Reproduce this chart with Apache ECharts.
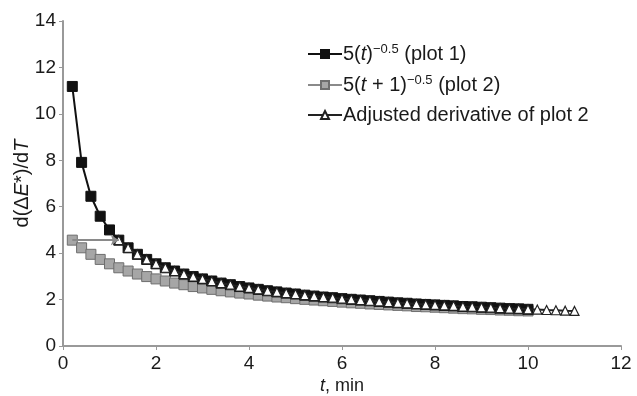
<!DOCTYPE html>
<html>
<head>
<meta charset="utf-8">
<style>
  html, body { margin: 0; padding: 0; background: #fff; }
  #chart { width: 637px; height: 396px; }
</style>
<script src="https://cdn.jsdelivr.net/npm/echarts@6/dist/echarts.min.js"></script>
</head>
<body>
<div id="chart"></div>
<script>
// Time points (min) for plot 1 and plot 2
const tMin = [0.2,0.4,0.6,0.8,1.0,1.2,1.4,1.6,1.8,2.0,2.2,2.4,2.6,2.8,3.0,3.2,3.4,3.6,3.8,4.0,
  4.2,4.4,4.6,4.8,5.0,5.2,5.4,5.6,5.8,6.0,6.2,6.4,6.6,6.8,7.0,7.2,7.4,7.6,7.8,8.0,
  8.2,8.4,8.6,8.8,9.0,9.2,9.4,9.6,9.8,10.0];

// Time points (min) for the adjusted derivative of plot 2
const tAdjusted = [1.2,1.4,1.6,1.8,2.0,2.2,2.4,2.6,2.8,3.0,3.2,3.4,3.6,3.8,4.0,4.2,4.4,4.6,4.8,5.0,
  5.2,5.4,5.6,5.8,6.0,6.2,6.4,6.6,6.8,7.0,7.2,7.4,7.6,7.8,8.0,8.2,8.4,8.6,8.8,9.0,
  9.2,9.4,9.6,9.8,10.0,10.2,10.4,10.6,10.8,11.0];

// 5(t)^-0.5 (plot 1)
const plot1 = [11.18,7.91,6.45,5.59,5.00,4.56,4.23,3.95,3.73,3.54,3.37,3.23,3.10,2.99,2.89,2.80,2.71,2.64,2.56,2.50,
  2.44,2.38,2.33,2.28,2.24,2.19,2.15,2.11,2.08,2.04,2.01,1.98,1.95,1.92,1.89,1.86,1.84,1.81,1.79,1.77,
  1.75,1.73,1.70,1.69,1.67,1.65,1.63,1.61,1.60,1.58];

// 5(t + 1)^-0.5 (plot 2)
const plot2 = [4.56,4.23,3.95,3.73,3.54,3.37,3.23,3.10,2.99,2.89,2.80,2.71,2.64,2.56,2.50,2.44,2.38,2.33,2.28,2.24,
  2.19,2.15,2.11,2.08,2.04,2.01,1.98,1.95,1.92,1.89,1.86,1.84,1.81,1.79,1.77,1.75,1.73,1.70,1.69,1.67,
  1.65,1.63,1.61,1.60,1.58,1.57,1.55,1.54,1.52,1.51];

// Adjusted derivative of plot 2 (plot 2 moved forward by 1 min)
const adjusted = plot2.slice();

// Horizontal shift arrow: from the first plot 2 point to the first adjusted point
const shiftFrom = [0.2, 4.56];
const shiftTo = [1.2, 4.56];

const yTicks = { min: 0, max: 14, step: 2 };
const xTicks = { min: 0, max: 12, step: 2 };

const FONT = "'Liberation Sans', Arial, sans-serif";
const INK = '#1a1a1a';

const pairs = (xs, ys) => xs.map((x, i) => [x, ys[i]]);

const legendText = {
  plot1: '5({i|t}){sup|−0.5} (plot 1)',
  plot2: '5({i|t} + 1){sup|−0.5} (plot 2)',
  adj: 'Adjusted derivative of plot 2'
};

const chart = echarts.init(document.getElementById('chart'), null, { renderer: 'canvas' });

chart.setOption({
  animation: false,
  backgroundColor: '#ffffff',
  grid: { left: 63, right: 16, top: 21, bottom: 50, containLabel: false, outerBoundsMode: 'none' },
  legend: {
    orient: 'vertical',
    left: 302,
    top: 38,
    itemGap: 10,
    itemWidth: 34,
    itemHeight: 10,
    data: ['plot1', 'plot2', 'adj'],
    formatter: name => legendText[name],
    textStyle: {
      fontFamily: FONT,
      fontSize: 20,
      color: INK,
      padding: [0, 0, 0, -4],
      rich: {
        i: { fontFamily: FONT, fontSize: 20, fontStyle: 'italic', color: INK },
        sup: { fontFamily: FONT, fontSize: 13, color: INK, verticalAlign: 'top', padding: [0, 0, 9, 0] }
      }
    }
  },
  xAxis: {
    type: 'value',
    min: xTicks.min,
    max: xTicks.max,
    interval: xTicks.step,
    name: '{i|t}, min',
    nameLocation: 'middle',
    nameGap: 31,
    nameMoveOverlap: false,
    nameTextStyle: {
      fontFamily: FONT, fontSize: 18, color: INK,
      rich: { i: { fontFamily: FONT, fontSize: 18, fontStyle: 'italic', color: INK } }
    },
    axisLine: { lineStyle: { color: '#999999', width: 2 } },
    axisTick: { show: true, inside: false, length: 4, lineStyle: { color: '#999999', width: 1 } },
    axisLabel: { fontFamily: FONT, fontSize: 19, color: INK, margin: 8 },
    splitLine: { show: false }
  },
  yAxis: {
    type: 'value',
    min: yTicks.min,
    max: yTicks.max,
    interval: yTicks.step,
    name: 'd(Δ{i|E}*)/d{i|T}',
    nameLocation: 'middle',
    nameGap: 31,
    nameMoveOverlap: false,
    nameRotate: 90,
    nameTextStyle: {
      fontFamily: FONT, fontSize: 20, color: INK,
      rich: { i: { fontFamily: FONT, fontSize: 20, fontStyle: 'italic', color: INK } }
    },
    axisLine: { show: true, lineStyle: { color: '#999999', width: 2 } },
    axisTick: { show: true, inside: false, length: 4, lineStyle: { color: '#999999', width: 1 } },
    axisLabel: { fontFamily: FONT, fontSize: 19, color: INK, margin: 7 },
    splitLine: { show: false }
  },
  series: [
    {
      name: 'plot1',
      type: 'line',
      data: pairs(tMin, plot1),
      symbol: 'rect',
      symbolSize: 10,
      lineStyle: { color: '#111111', width: 2 },
      itemStyle: { color: '#111111', borderColor: '#111111', borderWidth: 1 },
      z: 3
    },
    {
      name: 'plot2',
      type: 'line',
      data: pairs(tMin, plot2),
      symbol: 'rect',
      symbolSize: 10,
      lineStyle: { color: '#8a8a8a', width: 2 },
      itemStyle: { color: '#a6a6a6', borderColor: '#6e6e6e', borderWidth: 1 },
      z: 2
    },
    {
      name: 'adj',
      type: 'line',
      data: pairs(tAdjusted, adjusted),
      symbol: 'triangle',
      symbolSize: 9,
      lineStyle: { color: '#222222', width: 2 },
      itemStyle: { color: '#ffffff', borderColor: '#222222', borderWidth: 1.2 },
      z: 4,
      markLine: {
        silent: true,
        symbol: ['none', 'arrow'],
        symbolSize: 8,
        label: { show: false },
        lineStyle: { color: '#8a8a8a', width: 2, type: 'solid' },
        data: [[{ coord: shiftFrom }, { coord: shiftTo }]]
      }
    }
  ]
});
</script>
</body>
</html>
